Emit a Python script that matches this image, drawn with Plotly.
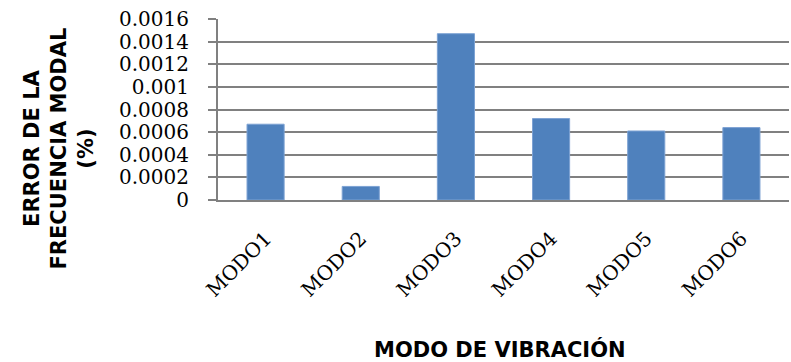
import plotly.graph_objects as go

# Modal frequency error per vibration mode
modos = ["MODO1", "MODO2", "MODO3", "MODO4", "MODO5", "MODO6"]
error_pct = [0.00067, 0.00012, 0.00147, 0.00072, 0.00061, 0.00064]

# Y axis ticks
y_ticks = [0, 0.0002, 0.0004, 0.0006, 0.0008, 0.001, 0.0012, 0.0014, 0.0016]
y_tick_text = ["0", "0.0002", "0.0004", "0.0006", "0.0008", "0.001", "0.0012", "0.0014", "0.0016"]

W, H = 791, 362
L, R, T, B = 218, 2, 19, 162
plot_w = W - L - R
plot_h = H - T - B

GRID = "#808080"
SERIF = "DejaVu Serif"
SANS_BOLD = "DejaVu Sans"

fig = go.Figure(
    go.Bar(
        x=modos,
        y=error_pct,
        width=0.39,
        marker=dict(color="#4F81BD", line=dict(color="#7DA2D3", width=1)),
    )
)

fig.update_layout(
    width=W,
    height=H,
    margin=dict(l=L, r=R, t=T, b=B, pad=0),
    paper_bgcolor="white",
    plot_bgcolor="white",
    showlegend=False,
)

fig.update_yaxes(
    range=[0, 0.0016],
    tickvals=y_ticks,
    ticktext=y_tick_text,
    showgrid=True,
    gridcolor=GRID,
    gridwidth=2,
    showline=True,
    linecolor=GRID,
    linewidth=2,
    ticks="outside",
    ticklen=8,
    tickwidth=2,
    tickcolor=GRID,
    ticklabelstandoff=15,
    tickfont=dict(family=SERIF, size=20, color="black"),
    zeroline=False,
)

fig.update_xaxes(
    showline=True,
    linecolor=GRID,
    linewidth=2,
    ticks="",
    tickangle=-45,
    ticklabelstandoff=17,
    tickfont=dict(family=SERIF, size=20, color="black"),
)

# Axis titles
fig.add_annotation(
    text="<b>ERROR DE LA<br>FRECUENCIA MODAL<br>(%)</b>",
    xref="paper", yref="paper",
    x=(58.5 - L) / plot_w,
    y=(H - B - 149) / plot_h,
    xanchor="center", yanchor="middle",
    textangle=-90,
    showarrow=False,
    font=dict(family=SANS_BOLD, size=21, color="black"),
)
fig.add_annotation(
    text="<b>MODO DE VIBRACIÓN</b>",
    xref="paper", yref="paper",
    x=(500 - L) / plot_w,
    y=(H - B - 349) / plot_h,
    xanchor="center", yanchor="middle",
    showarrow=False,
    font=dict(family=SANS_BOLD, size=21, color="black"),
)

fig.write_html("out.html")
